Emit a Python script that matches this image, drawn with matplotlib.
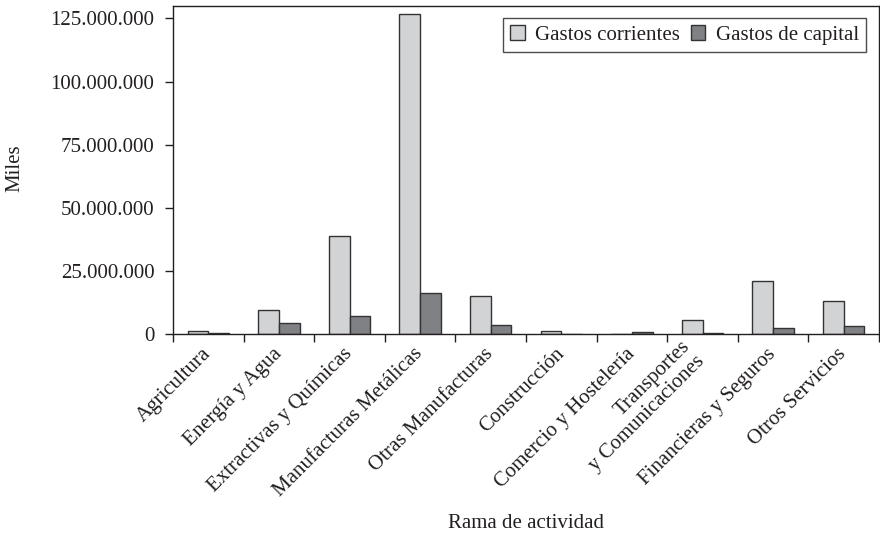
# -*- coding: utf-8 -*-
"""Gastos corrientes y de capital por rama de actividad (miles)."""
import numpy as np
import matplotlib
matplotlib.use('Agg')
import matplotlib.pyplot as plt
import matplotlib.transforms as mtransforms
from matplotlib.ticker import FuncFormatter, FixedLocator

plt.rcParams.update({
    'font.family': ['Liberation Serif', 'DejaVu Serif'],
    'font.size': 15,
    'text.color': '#231f20',
    'axes.labelcolor': '#231f20',
    'xtick.color': '#231f20',
    'ytick.color': '#231f20',
})

ramas = ['Agricultura', 'Energía y Agua', 'Extractivas y Químicas',
         'Manufacturas Metálicas', 'Otras Manufacturas', 'Construcción',
         'Comercio y Hostelería', 'Transportes\ny Comunicaciones',
         'Financieras y Seguros', 'Otros Servicios']
gastos_corrientes = [1.3e6, 9.8e6, 39.1e6, 126.6e6, 15.1e6, 1.3e6, 0.0, 5.9e6, 21.0e6, 13.3e6]
gastos_capital = [0.6e6, 4.5e6, 7.4e6, 16.4e6, 3.8e6, 0.0, 0.8e6, 0.6e6, 2.4e6, 3.2e6]
yticks = [0, 25e6, 50e6, 75e6, 100e6, 125e6]

light = '#d2d3d5'
dark = '#808185'
edge = '#333333'

fig = plt.figure(figsize=(8.8, 5.37), dpi=100)
ax = fig.add_axes([0.1966, 0.3771, 0.8023, 0.6123])

x = np.arange(len(ramas)) + 0.5
w = 0.293
ax.bar(x - w / 2, gastos_corrientes, w, color=light, edgecolor=edge, linewidth=1,
       label='Gastos corrientes')
ax.bar(x + w / 2, gastos_capital, w, color=dark, edgecolor=edge, linewidth=1,
       label='Gastos de capital')

ax.set_xlim(0, len(ramas))
ax.set_ylim(0, 130e6)

# ticks at category edges, labels at centres
ax.xaxis.set_major_locator(FixedLocator(np.arange(len(ramas) + 1)))
ax.tick_params(axis='x', which='major', direction='out', length=6, width=1, labelbottom=False)
ax.set_xticks(x, minor=True)
ax.set_xticklabels(ramas, minor=True, rotation=45, ha='right', va='center',
                   rotation_mode='anchor', fontsize=15)
ax.tick_params(axis='x', which='minor', length=0, pad=12)

ax.set_yticks(yticks)
ax.yaxis.set_major_formatter(FuncFormatter(lambda v, p: f'{v:,.0f}'.replace(',', '.')))
ax.tick_params(axis='y', direction='out', length=6, width=1, pad=7.5, labelsize=15)

# the two-line label sits a little further left
lab = ax.get_xticklabels(minor=True)[7]
lab.set_transform(lab.get_transform()
                  + mtransforms.ScaledTranslation(-8 / 100, 0, fig.dpi_scale_trans))

for s in ax.spines.values():
    s.set_linewidth(1)
    s.set_color('#231f20')

leg = ax.legend(loc='upper right', ncol=2, frameon=True, fancybox=False,
                edgecolor='#231f20', fontsize=15, handlelength=0.7, handleheight=0.7,
                handletextpad=0.5, columnspacing=0.5, borderpad=0.35, borderaxespad=0,
                bbox_to_anchor=(0.9816, 0.9626))
leg.get_frame().set_linewidth(1)

fig.text(15 / 880, 1 - 168 / 537, 'Miles', rotation=90, ha='center', va='center', fontsize=15)
fig.text(0.1966 + 0.8023 / 2, 1 - 524 / 537, 'Rama de actividad', ha='center', va='center',
         fontsize=15)

fig.savefig('out.png', dpi=100)
